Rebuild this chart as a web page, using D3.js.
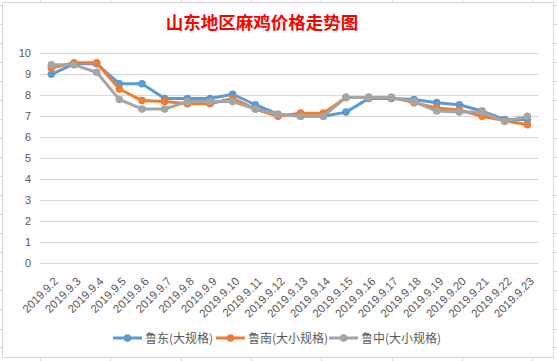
<!DOCTYPE html>
<html><head><meta charset="utf-8">
<script src="https://cdn.jsdelivr.net/npm/d3@7/dist/d3.min.js"></script>
<style>body{margin:0;background:#fff}svg{display:block}</style>
</head><body>
<script>
const dates = ["2019.9.2","2019.9.3","2019.9.4","2019.9.5","2019.9.6","2019.9.7","2019.9.8","2019.9.9","2019.9.10","2019.9.11","2019.9.12","2019.9.13","2019.9.14","2019.9.15","2019.9.16","2019.9.17","2019.9.18","2019.9.19","2019.9.20","2019.9.21","2019.9.22","2019.9.23"];
const ludong  = [9.0,9.5,9.5,8.55,8.55,7.85,7.85,7.85,8.05,7.55,7.1,7.0,7.0,7.2,7.85,7.85,7.8,7.65,7.55,7.25,6.85,6.85];
const lunan   = [9.3,9.55,9.55,8.3,7.75,7.7,7.6,7.6,7.85,7.35,7.0,7.15,7.15,7.9,7.9,7.9,7.65,7.4,7.3,7.0,6.8,6.6];
const luzhong = [9.45,9.45,9.1,7.8,7.35,7.35,7.7,7.7,7.7,7.35,7.1,7.0,7.0,7.9,7.9,7.9,7.7,7.25,7.2,7.2,6.75,7.0];
const seriesNames = ["鲁东(大规格)","鲁南(大小规格)","鲁中(大小规格)"];
const yTicks = [0,1,2,3,4,5,6,7,8,9,10];
const title = "山东地区麻鸡价格走势图";

const W = 557, H = 361;
const colors = ["#5B9BD5","#ED7D31","#A5A5A5"];
const series = [ludong, lunan, luzhong];
const svg = d3.select("body").append("svg").attr("width", W).attr("height", H);
const font = "'Liberation Sans','Noto Sans CJK SC',sans-serif";

// spreadsheet background grid
const sheet = svg.append("g").attr("stroke", "#D4D4D4").attr("stroke-width", 1);
[40, 110, 181, 251, 321, 392, 462, 532].forEach(x => {
  sheet.append("line").attr("x1", x + 0.5).attr("x2", x + 0.5).attr("y1", 0).attr("y2", H);
});
[5, 24, 43, 62, 81, 100, 119, 138, 157, 176, 195, 214, 233, 252, 271, 290, 309, 329, 347].forEach(y => {
  sheet.append("line").attr("x1", 0).attr("x2", W).attr("y1", y + 0.5).attr("y2", y + 0.5);
});
// chart area
svg.append("rect").attr("x", 2.5).attr("y", 2.5).attr("width", 551).attr("height", 355)
  .attr("fill", "#fff").attr("stroke", "#D9D9D9");

const x = d3.scalePoint().domain(dates).range([40, 538.7]).padding(0.5);
const y = d3.scaleLinear().domain([0, 10]).range([263.3, 53.3]);

// gridlines
svg.append("g").selectAll("line").data(yTicks).join("line")
  .attr("x1", 40).attr("x2", 538.7)
  .attr("y1", d => Math.round(y(d)) + 0.5).attr("y2", d => Math.round(y(d)) + 0.5)
  .attr("stroke", "#D9D9D9").attr("stroke-width", 1);

// y axis labels
const yAxis = d3.axisLeft(y).tickValues(yTicks).tickSize(0).tickPadding(0);
const gy = svg.append("g").attr("transform", "translate(31,0)").call(yAxis);
gy.select(".domain").remove();
gy.selectAll("text").attr("font-family", font).attr("font-size", 11).attr("fill", "#595959");

// x axis labels
const xAxis = d3.axisBottom(x).tickSize(0).tickPadding(0);
const gx = svg.append("g").attr("transform", "translate(0,263)").call(xAxis);
gx.select(".domain").remove();
gx.selectAll("text")
  .attr("font-family", font).attr("font-size", 11.5).attr("fill", "#595959")
  .attr("text-anchor", "end").attr("dy", null).attr("y", 0)
  .attr("transform", "translate(7,19) rotate(-45)");

// lines
const line = d3.line().x((d, i) => x(dates[i])).y(d => y(d));
series.forEach((s, k) => {
  svg.append("path").datum(s).attr("d", line).attr("fill", "none")
    .attr("stroke", colors[k]).attr("stroke-width", 3).attr("stroke-linejoin", "round");
  svg.append("g").selectAll("circle").data(s).join("circle")
    .attr("cx", (d, i) => x(dates[i])).attr("cy", d => y(d)).attr("r", 3.8)
    .attr("fill", colors[k]);
});

// title
svg.append("text").attr("x", 262).attr("y", 29).attr("text-anchor", "middle")
  .attr("font-family", "'Noto Sans CJK SC',sans-serif").attr("font-size", 17.5).attr("font-weight", "bold")
  .attr("fill", "#FF0000").text(title);

// legend
const legX = [113, 216, 329];
const lg = svg.append("g");
seriesNames.forEach((n, k) => {
  const g = lg.append("g").attr("transform", `translate(${legX[k]},338)`);
  g.append("line").attr("x1", 0).attr("x2", 29).attr("y1", 0).attr("y2", 0)
    .attr("stroke", colors[k]).attr("stroke-width", 3);
  g.append("circle").attr("cx", 14.5).attr("cy", 0).attr("r", 3.8).attr("fill", colors[k]);
  g.append("text").attr("x", 32).attr("y", 4.5).attr("font-family", "'Noto Sans CJK SC',sans-serif")
    .attr("font-size", 12).attr("fill", "#595959").text(n);
});
</script>
</body></html>
